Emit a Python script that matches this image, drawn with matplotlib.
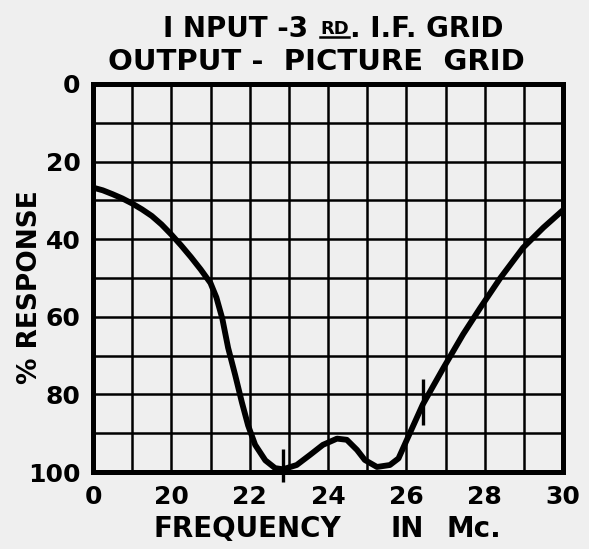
import matplotlib.pyplot as plt
import numpy as np

# response curve, % response vs frequency (Mc.)
freq = [0, 2.5, 5, 7.5, 10, 12.5, 15, 17.5, 20, 20.25, 20.5, 20.75, 21, 21.15,
        21.3, 21.45, 21.63, 21.8, 21.96, 22.14, 22.4, 22.65, 22.85, 23.2, 23.54,
        23.87, 24.23, 24.48, 24.74, 24.94, 25.25, 25.58, 25.8, 26, 26.42, 26.94,
        27.45, 27.88, 28.4, 28.98, 29.5, 30]
response = [26.7, 27.4, 28.4, 29.5, 30.8, 32.3, 34, 36.2, 38.8, 41.6, 44.6, 47.8,
            51.3, 55, 60.4, 68, 75, 82, 88, 93, 97, 99, 99.3, 98.2, 95.6,
            93, 91.4, 91.7, 94.3, 96.9, 98.7, 98.2, 96.5, 92, 82.6, 73.3,
            64.5, 57.8, 50, 42.2, 37, 32.5]

# short pencil marks across the curve
mark_freq = [22.85, 26.42]
mark_lo = [94, 76]
mark_hi = [102.5, 88]

xticks = [0, 20, 22, 24, 26, 28, 30]
xminor = [10, 21, 23, 25, 27, 29]
yticks = [0, 20, 40, 60, 80, 100]
yminor = [10, 30, 50, 70, 90]

W, H = 589, 549
bg = '#efefef'
font = {'family': 'DejaVu Sans', 'weight': 'bold'}


def px(x, y):
    return x / W, 1 - y / H


# 0-20 squeezed into two squares, then one square per Mc.
def fwd(f):
    f = np.asarray(f, dtype=float)
    return np.where(f <= 20, f / 10, f - 18)


def inv(c):
    c = np.asarray(c, dtype=float)
    return np.where(c <= 2, c * 10, c + 18)


fig = plt.figure(figsize=(W / 100, H / 100), dpi=100, facecolor=bg)
ax = fig.add_axes([93 / W, 1 - 472 / H, 470 / W, 388 / H], facecolor=bg)
ax.set_xscale('function', functions=(fwd, inv))
ax.set_xlim(0, 30)
ax.set_ylim(100, 0)

ax.set_xticks(xticks)
ax.set_xticks(xminor, minor=True)
ax.set_yticks(yticks)
ax.set_yticks(yminor, minor=True)
ax.grid(which='both', color='black', linewidth=1.8)
ax.tick_params(which='both', length=0)
ax.tick_params(axis='x', pad=9)
ax.tick_params(axis='y', pad=9)
for lab in ax.get_xticklabels() + ax.get_yticklabels():
    lab.set_fontsize(18)
    lab.set_fontweight('bold')
for s in ax.spines.values():
    s.set_linewidth(3.6)

ax.plot(freq, response, color='black', linewidth=4.2, solid_capstyle='round',
        solid_joinstyle='round', zorder=5)
ax.vlines(mark_freq, mark_lo, mark_hi, color='black', linewidth=2.4,
          clip_on=False, zorder=5)

# titles
fig.text(*px(163, 37), 'I NPUT -3', fontsize=20, ha='left', va='baseline', **font)
fig.text(*px(320, 34), 'RD', fontsize=13, ha='left', va='baseline', **font)
fig.add_artist(plt.Line2D([320 / W, 349 / W], [1 - 37 / H] * 2, color='black',
                          linewidth=1.8))
fig.text(*px(350, 37), '. I.F. GRID', fontsize=20, ha='left', va='baseline', **font)
fig.text(*px(316, 70), 'OUTPUT -  PICTURE  GRID', fontsize=21, ha='center',
         va='baseline', **font)

# axis titles
fig.text(*px(30, 287), '% RESPONSE', fontsize=19, rotation=90, ha='center',
         va='center', **font)
fig.text(*px(247, 537), 'FREQUENCY', fontsize=20, ha='center', va='baseline', **font)
fig.text(*px(407, 537), 'IN', fontsize=20, ha='center', va='baseline', **font)
fig.text(*px(474, 537), 'Mc.', fontsize=20, ha='center', va='baseline', **font)

fig.savefig('out.png', dpi=100, facecolor=bg)
